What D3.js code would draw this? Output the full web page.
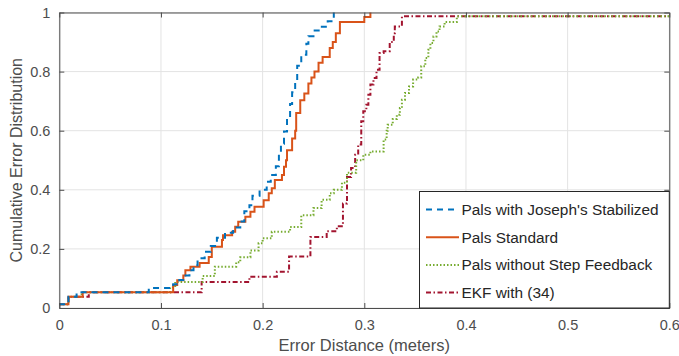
<!DOCTYPE html>
<html>
<head>
<meta charset="utf-8">
<script src="https://cdn.jsdelivr.net/npm/d3@7"></script>
<style>
  body { margin: 0; background: #fff; }
  svg text { font-family: "Liberation Sans", Arial, sans-serif; }
</style>
</head>
<body>
<svg id="chart" width="679" height="356"></svg>
<script>
// tick values
var xTicks = [0, 0.1, 0.2, 0.3, 0.4, 0.5, 0.6];
var yTicks = [0, 0.2, 0.4, 0.6, 0.8, 1];

// series: [error distance, cumulative probability]
var josephSteps = [[0,0.013],[0.009,0.038],[0.017,0.053],[0.088,0.068],[0.112,0.08],[0.118,0.095],[0.122,0.11],
  [0.128,0.128],[0.132,0.145],[0.136,0.168],[0.143,0.19],[0.149,0.21],[0.155,0.238],[0.163,0.255],[0.171,0.272],
  [0.178,0.293],[0.182,0.327],[0.187,0.348],[0.19,0.38],[0.197,0.40],[0.204,0.427],[0.208,0.45],[0.213,0.48],
  [0.216,0.52],[0.218,0.556],[0.221,0.597],[0.224,0.64],[0.227,0.69],[0.229,0.73],[0.232,0.77],[0.234,0.82],
  [0.238,0.857],[0.243,0.894],[0.245,0.92],[0.25,0.939],[0.257,0.952],[0.264,0.97],[0.27,1.0]];

var standardSteps = [[0,0.013],[0.009,0.038],[0.023,0.053],[0.112,0.078],[0.116,0.094],[0.122,0.11],[0.124,0.128],
  [0.129,0.14],[0.138,0.152],[0.147,0.173],[0.150,0.207],[0.160,0.23],[0.161,0.246],[0.170,0.258],[0.173,0.275],
  [0.176,0.292],[0.183,0.309],[0.188,0.326],[0.192,0.343],[0.201,0.365],[0.206,0.388],[0.209,0.405],[0.212,0.433],
  [0.219,0.45],[0.221,0.478],[0.223,0.50],[0.224,0.534],[0.229,0.574],[0.232,0.60],[0.233,0.66],[0.237,0.703],
  [0.241,0.726],[0.245,0.76],[0.248,0.78],[0.251,0.8],[0.255,0.83],[0.259,0.849],[0.266,0.88],[0.269,0.90],
  [0.272,0.93],[0.276,0.968],[0.300,0.985],[0.306,1.0]];

var noFeedbackSteps = [[0,0.013],[0.009,0.038],[0.022,0.053],[0.109,0.07],[0.114,0.088],[0.141,0.108],[0.153,0.14],
  [0.174,0.155],[0.178,0.172],[0.188,0.195],[0.196,0.219],[0.2,0.236],[0.209,0.258],[0.227,0.274],[0.238,0.314],
  [0.25,0.338],[0.258,0.366],[0.266,0.388],[0.27,0.40],[0.278,0.424],[0.283,0.458],[0.292,0.50],[0.299,0.519],
  [0.306,0.53],[0.319,0.57],[0.322,0.60],[0.323,0.62],[0.328,0.64],[0.332,0.654],[0.335,0.677],[0.337,0.705],
  [0.34,0.728],[0.344,0.75],[0.348,0.773],[0.353,0.78],[0.356,0.818],[0.36,0.846],[0.363,0.874],[0.365,0.897],
  [0.368,0.919],[0.371,0.936],[0.374,0.953],[0.379,0.968],[0.391,0.987],[0.6,0.987]];

var ekfSteps = [[0,0.013],[0.009,0.038],[0.029,0.053],[0.14,0.088],[0.187,0.106],[0.214,0.123],[0.226,0.174],
  [0.247,0.24],[0.263,0.26],[0.273,0.277],[0.279,0.354],[0.283,0.443],[0.287,0.474],[0.291,0.519],[0.294,0.553],
  [0.297,0.632],[0.299,0.666],[0.302,0.688],[0.304,0.722],[0.306,0.756],[0.309,0.778],[0.312,0.806],[0.315,0.863],
  [0.319,0.869],[0.325,0.90],[0.329,0.93],[0.330,0.953],[0.337,0.987],[0.6,0.987]];

var seriesNames = ["Pals with Joseph's Stabilized", "Pals Standard", "Pals without Step Feedback", "EKF with (34)"];

//
var svg = d3.select("#chart");
var plotLeft = 59.3, plotRight = 669.3, plotTop = 12.5, plotBottom = 308;

var x = d3.scaleLinear().domain([0, 0.6]).range([plotLeft, plotRight]);
var y = d3.scaleLinear().domain([0, 1]).range([plotBottom, plotTop]);

var styles = [
  {data: josephSteps, color: "#0072BD", dash: "6,5"},
  {data: standardSteps, color: "#D95319", dash: null},
  {data: noFeedbackSteps, color: "#77AC30", dash: "1.5,2"},
  {data: ekfSteps, color: "#A2142F", dash: "5,2.5,1.5,2.5"}
];

// grid
svg.append("g").selectAll("line").data(xTicks).enter().append("line")
  .attr("x1", function(d) { return x(d); }).attr("x2", function(d) { return x(d); })
  .attr("y1", plotTop).attr("y2", plotBottom)
  .attr("stroke", "#e3e3e3").attr("stroke-width", 1);
svg.append("g").selectAll("line").data(yTicks).enter().append("line")
  .attr("y1", function(d) { return y(d); }).attr("y2", function(d) { return y(d); })
  .attr("x1", plotLeft).attr("x2", plotRight)
  .attr("stroke", "#e3e3e3").attr("stroke-width", 1);

// curves
svg.append("clipPath").attr("id", "plotclip").append("rect")
  .attr("x", plotLeft).attr("y", plotTop - 2).attr("width", plotRight - plotLeft).attr("height", plotBottom - plotTop + 4);

var line = d3.line()
  .x(function(d) { return x(d[0]); })
  .y(function(d) { return y(d[1]); })
  .curve(d3.curveStepAfter);

var plot = svg.append("g").attr("clip-path", "url(#plotclip)");
// draw in reverse order so blue ends on top like in the picture
styles.slice().reverse().forEach(function(s) {
  plot.append("path").datum(s.data)
    .attr("d", line)
    .attr("fill", "none")
    .attr("stroke", s.color)
    .attr("stroke-width", 2)
    .attr("stroke-dasharray", s.dash);
});

// axes (ticks inward, box on)
var axisColor = "#4d4d4d";
var xAxis = svg.append("g").attr("transform", "translate(0," + plotBottom + ")")
  .call(d3.axisBottom(x).tickValues(xTicks).tickSizeInner(-5).tickSizeOuter(0).tickPadding(12)
    .tickFormat(function(d) { return d === 0 ? "0" : d3.format(".1f")(d); }));
var xAxisTop = svg.append("g").attr("transform", "translate(0," + plotTop + ")")
  .call(d3.axisTop(x).tickValues(xTicks).tickSizeInner(-5).tickSizeOuter(0).tickFormat(""));
var yAxis = svg.append("g").attr("transform", "translate(" + plotLeft + ",0)")
  .call(d3.axisLeft(y).tickValues(yTicks).tickSizeInner(-5).tickSizeOuter(0).tickPadding(9)
    .tickFormat(function(d) { return (d === 0 || d === 1) ? String(d) : d3.format(".1f")(d); }));
var yAxisRight = svg.append("g").attr("transform", "translate(" + plotRight + ",0)")
  .call(d3.axisRight(y).tickValues(yTicks).tickSizeInner(-5).tickSizeOuter(0).tickFormat(""));

[xAxis, xAxisTop, yAxis, yAxisRight].forEach(function(g) {
  g.select(".domain").attr("stroke", axisColor).attr("stroke-width", 1);
  g.selectAll(".tick line").attr("stroke", axisColor);
  g.selectAll("text").attr("fill", axisColor).style("font-size", "14.5px");
});

// axis labels
svg.append("text")
  .attr("x", (plotLeft + plotRight) / 2).attr("y", 351)
  .attr("text-anchor", "middle").attr("fill", axisColor)
  .style("font-size", "16.5px")
  .text("Error Distance (meters)");
svg.append("text")
  .attr("transform", "translate(22," + (plotTop + plotBottom) / 2 + ") rotate(-90)")
  .attr("text-anchor", "middle").attr("fill", axisColor)
  .style("font-size", "16px")
  .text("Cumulative Error Distribution");

// legend
var lg = svg.append("g");
lg.append("rect")
  .attr("x", 419.5).attr("y", 191.5).attr("width", plotRight - 419.5).attr("height", plotBottom - 191.5)
  .attr("fill", "#fff").attr("stroke", "#262626").attr("stroke-width", 1);
styles.forEach(function(s, i) {
  var ry = 209.5 + i * 27.7;
  lg.append("line")
    .attr("x1", 426).attr("x2", 459).attr("y1", ry).attr("y2", ry)
    .attr("stroke", s.color).attr("stroke-width", 2)
    .attr("stroke-dasharray", s.dash);
  lg.append("text")
    .attr("x", 461.5).attr("y", ry).attr("dy", "0.35em")
    .attr("fill", "#262626").style("font-size", "15.4px")
    .text(seriesNames[i]);
});
</script>
</body>
</html>
